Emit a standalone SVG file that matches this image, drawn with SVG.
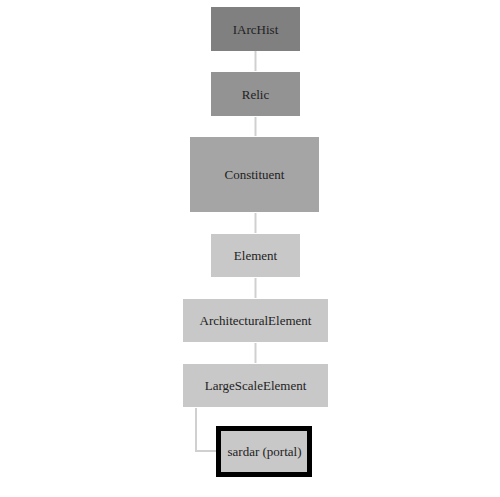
<svg xmlns="http://www.w3.org/2000/svg" width="500" height="497" viewBox="0 0 500 497">
<style>
.n text{font-family:"Liberation Serif",serif;font-size:13px;fill:#222;text-anchor:middle;dominant-baseline:central}
.c{stroke:#d0d0d0;stroke-width:2;fill:none}
</style>
<rect width="500" height="497" fill="#fff"/>
<g id="connectors">
<line class="c" x1="255.5" y1="51" x2="255.5" y2="71"/>
<line class="c" x1="255.5" y1="117" x2="255.5" y2="136"/>
<line class="c" x1="255.5" y1="213" x2="255.5" y2="233"/>
<line class="c" x1="255.5" y1="278" x2="255.5" y2="298"/>
<line class="c" x1="255.5" y1="343" x2="255.5" y2="363"/>
<polyline class="c" points="196,408 196,451 217,451"/>
</g>
<g id="IArcHist" class="n"><rect x="211" y="7" width="89" height="44" fill="#808080"/><text x="255.5" y="29">IArcHist</text></g>
<g id="Relic" class="n"><rect x="211" y="72" width="89" height="44" fill="#939393"/><text x="255.5" y="94">Relic</text></g>
<g id="Constituent" class="n"><rect x="190" y="137" width="129" height="75" fill="#a5a5a5"/><text x="254.5" y="174.5">Constituent</text></g>
<g id="Element" class="n"><rect x="211" y="234" width="89" height="43" fill="#c8c8c8"/><text x="255.5" y="255.5">Element</text></g>
<g id="ArchitecturalElement" class="n"><rect x="183" y="299" width="145" height="43" fill="#c8c8c8"/><text x="255.5" y="320.5">ArchitecturalElement</text></g>
<g id="LargeScaleElement" class="n"><rect x="183" y="364" width="145" height="43" fill="#c8c8c8"/><text x="255.5" y="385.5">LargeScaleElement</text></g>
<g id="sardar" class="n"><rect x="218.5" y="428.5" width="91" height="46" fill="#c8c8c8" stroke="#000" stroke-width="5"/><text x="264.5" y="451.5">sardar (portal)</text></g>
</svg>
